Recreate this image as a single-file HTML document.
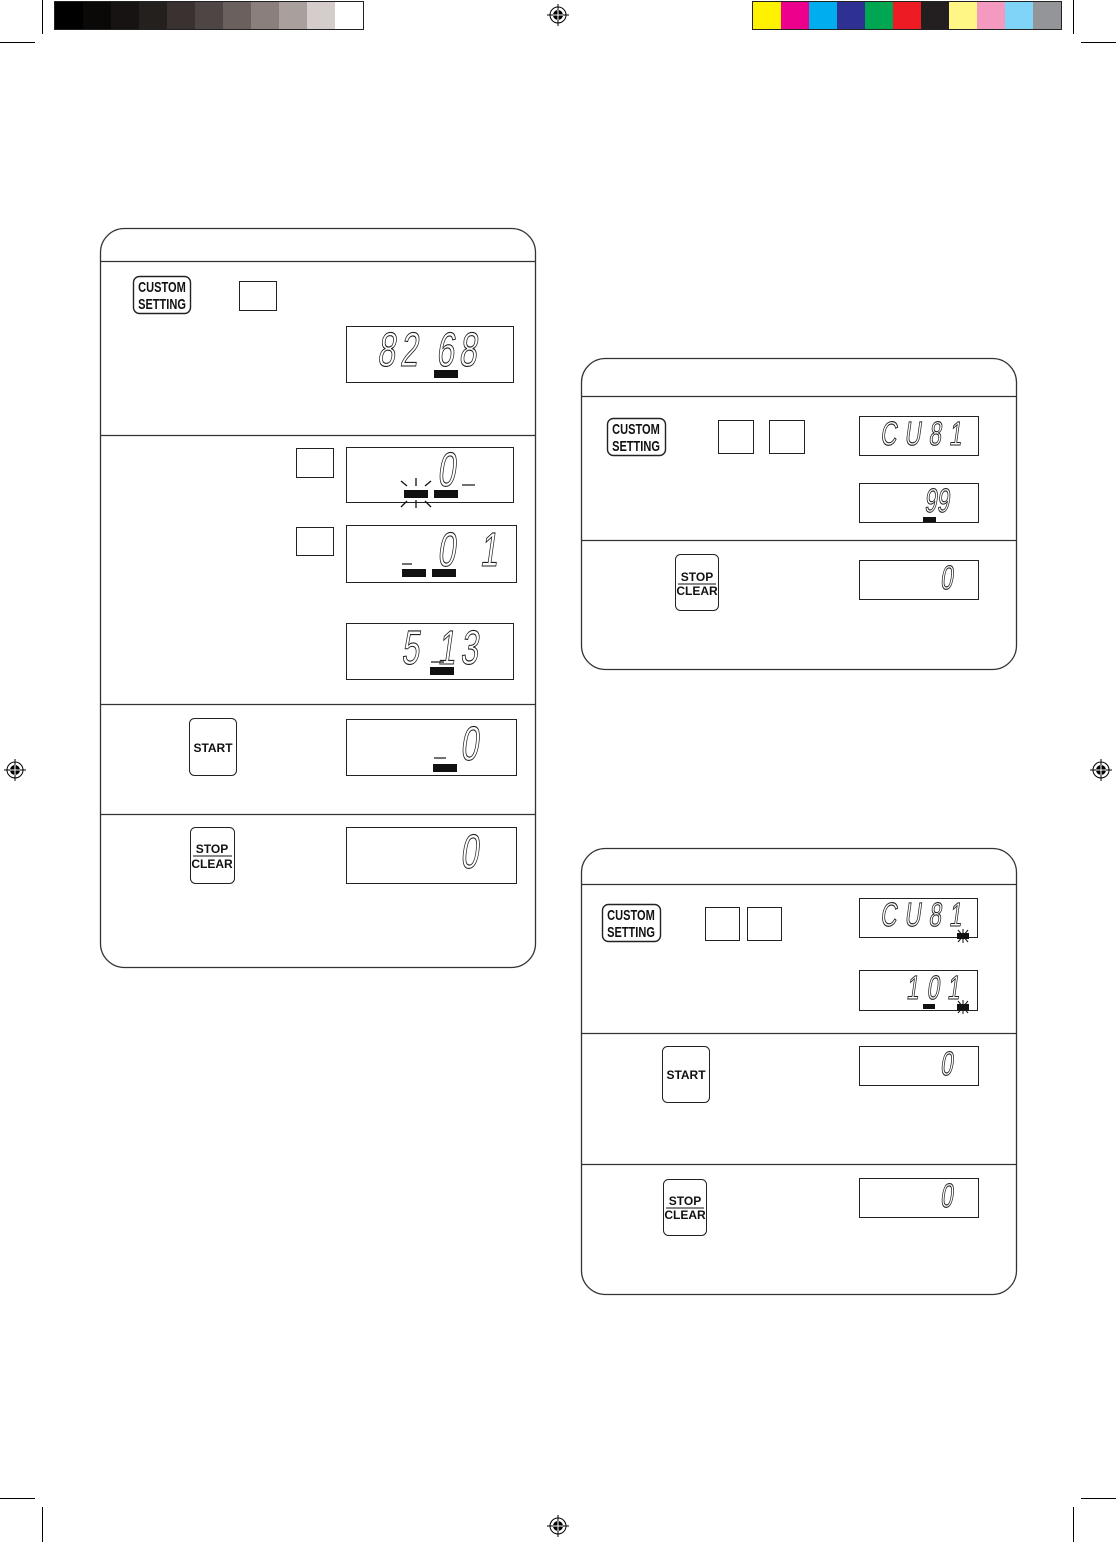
<!DOCTYPE html>
<html><head><meta charset="utf-8"><style>
html,body{margin:0;padding:0;background:#fff;}
svg{display:block;}
.d{font-family:"Liberation Sans",sans-serif;fill:#fff;stroke:#222;stroke-width:0.9;}
.b{font-family:"Liberation Sans",sans-serif;font-weight:bold;fill:#111;}
</style></head><body>
<svg width="1116" height="1542" viewBox="0 0 1116 1542" xmlns="http://www.w3.org/2000/svg">
<defs>
<g id="reg"><circle r="8" fill="none" stroke="#000" stroke-width="1"/><circle r="5" fill="#000"/><line x1="-11" y1="0" x2="11" y2="0" stroke="#000" stroke-width="1"/><line x1="0" y1="-11" x2="0" y2="11" stroke="#000" stroke-width="1"/><line x1="-5" y1="0" x2="5" y2="0" stroke="#fff" stroke-width="1"/><line x1="0" y1="-5" x2="0" y2="5" stroke="#fff" stroke-width="1"/></g>
<g id="star"><rect x="-6" y="-3" width="12" height="6" fill="#111"/><line x1="-5" y1="-6" x2="5" y2="6" stroke="#111"/><line x1="5" y1="-6" x2="-5" y2="6" stroke="#111"/><line x1="0" y1="-7" x2="0" y2="7" stroke="#111"/></g>
</defs>
<rect x="54" y="1" width="310" height="29" fill="#222"/>
<rect x="55" y="2" width="28" height="27" fill="#000"/><rect x="83" y="2" width="28" height="27" fill="#0b0908"/><rect x="111" y="2" width="28" height="27" fill="#171312"/><rect x="139" y="2" width="28" height="27" fill="#24201e"/><rect x="167" y="2" width="28" height="27" fill="#3a3230"/><rect x="195" y="2" width="28" height="27" fill="#4e4644"/><rect x="223" y="2" width="28" height="27" fill="#6a605e"/><rect x="251" y="2" width="28" height="27" fill="#8a7f7c"/><rect x="279" y="2" width="28" height="27" fill="#a9a09e"/><rect x="307" y="2" width="28" height="27" fill="#d5cccc"/><rect x="335" y="2" width="28" height="27" fill="#fff"/>
<rect x="752" y="1" width="310" height="29" fill="#222"/>
<rect x="753" y="2" width="28" height="27" fill="#fff200"/><rect x="781" y="2" width="28" height="27" fill="#ec008c"/><rect x="809" y="2" width="28" height="27" fill="#00aeef"/><rect x="837" y="2" width="28" height="27" fill="#2e3192"/><rect x="865" y="2" width="28" height="27" fill="#00a651"/><rect x="893" y="2" width="28" height="27" fill="#ed1c24"/><rect x="921" y="2" width="28" height="27" fill="#231f20"/><rect x="949" y="2" width="28" height="27" fill="#fff685"/><rect x="977" y="2" width="28" height="27" fill="#f49ac1"/><rect x="1005" y="2" width="28" height="27" fill="#7fd4f7"/><rect x="1033" y="2" width="28" height="27" fill="#939598"/>
<g stroke="#000" stroke-width="1">
<line x1="42.5" y1="0" x2="42.5" y2="34"/><line x1="0" y1="42.5" x2="35" y2="42.5"/>
<line x1="1073.5" y1="0" x2="1073.5" y2="34"/><line x1="1081" y1="42.5" x2="1116" y2="42.5"/>
<line x1="42.5" y1="1507" x2="42.5" y2="1542"/><line x1="0" y1="1498.5" x2="35" y2="1498.5"/>
<line x1="1073.5" y1="1507" x2="1073.5" y2="1542"/><line x1="1081" y1="1498.5" x2="1116" y2="1498.5"/>
</g>
<use href="#reg" x="558" y="15"/><use href="#reg" x="15" y="770"/><use href="#reg" x="1101" y="770"/><use href="#reg" x="558" y="1526"/>

<g fill="none" stroke="#333" stroke-width="1.3">
<rect x="100.5" y="228.5" width="435" height="739" rx="24"/>
<line x1="100" y1="261.5" x2="536" y2="261.5"/>
<line x1="100" y1="435.5" x2="536" y2="435.5"/>
<line x1="100" y1="704.5" x2="536" y2="704.5"/>
<line x1="100" y1="814.5" x2="536" y2="814.5"/>
<rect x="581.5" y="358.5" width="435" height="311" rx="24"/>
<line x1="581" y1="396.5" x2="1017" y2="396.5"/>
<line x1="581" y1="540.5" x2="1017" y2="540.5"/>
<rect x="581.5" y="848.5" width="435" height="446" rx="24"/>
<line x1="581" y1="884.5" x2="1017" y2="884.5"/>
<line x1="581" y1="1033.5" x2="1017" y2="1033.5"/>
<line x1="581" y1="1164.5" x2="1017" y2="1164.5"/>
</g>

<g fill="#fff" stroke="#222" stroke-width="1">
<rect x="239.5" y="281.5" width="37" height="29"/>
<rect x="296.5" y="448.5" width="37" height="29"/>
<rect x="296.5" y="527.5" width="37" height="28"/>
<rect x="718.5" y="420.5" width="35" height="33"/>
<rect x="769.5" y="420.5" width="35" height="33"/>
<rect x="705.5" y="907.5" width="34" height="33"/>
<rect x="747.5" y="907.5" width="34" height="33"/>
<rect x="346.5" y="326.5" width="167" height="56"/>
<rect x="346.5" y="447.5" width="167" height="55"/>
<rect x="346.5" y="525.5" width="170" height="57"/>
<rect x="346.5" y="623.5" width="167" height="56"/>
<rect x="346.5" y="719.5" width="170" height="56"/>
<rect x="346.5" y="827.5" width="170" height="56"/>
<rect x="859.5" y="416.5" width="119" height="39"/>
<rect x="859.5" y="483.5" width="119" height="39"/>
<rect x="859.5" y="560.5" width="119" height="39"/>
<rect x="859.5" y="898.5" width="118" height="39"/>
<rect x="859.5" y="970.5" width="118" height="40"/>
<rect x="859.5" y="1046.5" width="119" height="39"/>
<rect x="859.5" y="1178.5" width="119" height="39"/>
<rect x="133.5" y="276.5" width="57" height="37" rx="6" stroke-width="1.4"/>
<rect x="189.5" y="718.5" width="47" height="57" rx="5"/>
<rect x="190.5" y="827.5" width="44" height="56" rx="5"/>
<rect x="607.5" y="418.5" width="58" height="37" rx="6" stroke-width="1.4"/>
<rect x="675.5" y="554.5" width="43" height="56" rx="5"/>
<rect x="602.5" y="904.5" width="58" height="37" rx="6" stroke-width="1.4"/>
<rect x="662.5" y="1046.5" width="47" height="56" rx="5"/>
<rect x="663.5" y="1179.5" width="43" height="56" rx="5"/>
</g>

<g class="b" font-size="13" text-anchor="middle">
<text transform="translate(162,292) scale(0.85,1.1)">CUSTOM</text>
<text transform="translate(162,309) scale(0.85,1.1)">SETTING</text>
<text transform="translate(636,434) scale(0.85,1.1)">CUSTOM</text>
<text transform="translate(636,451) scale(0.85,1.1)">SETTING</text>
<text transform="translate(631,920) scale(0.85,1.1)">CUSTOM</text>
<text transform="translate(631,937) scale(0.85,1.1)">SETTING</text>
</g>
<text class="b" x="213" y="752" font-size="12" text-anchor="middle">START</text>
<text class="b" x="212" y="853" font-size="12" text-anchor="middle">STOP</text>
<line x1="193" y1="856" x2="232" y2="856" stroke="#111"/>
<text class="b" x="212" y="868" font-size="12" text-anchor="middle">CLEAR</text>
<text class="b" x="697" y="581" font-size="12" text-anchor="middle">STOP</text>
<line x1="678" y1="584" x2="716" y2="584" stroke="#111"/>
<text class="b" x="697" y="595" font-size="12" text-anchor="middle">CLEAR</text>
<text class="b" x="686" y="1079" font-size="12" text-anchor="middle">START</text>
<text class="b" x="685" y="1205" font-size="12" text-anchor="middle">STOP</text>
<line x1="666" y1="1208" x2="704" y2="1208" stroke="#111"/>
<text class="b" x="685" y="1219" font-size="12" text-anchor="middle">CLEAR</text>

<g class="d" font-size="40">
<text transform="translate(377,366) skewX(-8) scale(0.8,1.2)" letter-spacing="6">82 68</text>
<text transform="translate(437,486) skewX(-8) scale(0.8,1.2)">0</text>
<text transform="translate(437,566) skewX(-8) scale(0.8,1.2)" letter-spacing="10">0 1</text>
<text transform="translate(401,664) skewX(-8) scale(0.8,1.2)" letter-spacing="6">5 13</text>
<text transform="translate(460,760) skewX(-8) scale(0.8,1.2)">0</text>
<text transform="translate(460,868) skewX(-8) scale(0.8,1.2)">0</text>
</g>
<g class="d" font-size="28">
<text transform="translate(880,445) skewX(-8) scale(0.8,1.2)" letter-spacing="10">CU81</text>
<text transform="translate(924,512) skewX(-8) scale(0.8,1.2)">99</text>
<text transform="translate(940,589) skewX(-8) scale(0.8,1.2)">0</text>
<text transform="translate(880,926) skewX(-8) scale(0.8,1.2)" letter-spacing="10">CU81</text>
<text transform="translate(906,999) skewX(-8) scale(0.8,1.2)" letter-spacing="10">101</text>
<text transform="translate(940,1075) skewX(-8) scale(0.8,1.2)">0</text>
<text transform="translate(940,1207) skewX(-8) scale(0.8,1.2)">0</text>
</g>
<g stroke="#222" stroke-width="1.3">
<line x1="462" y1="485" x2="475" y2="485"/>
<line x1="402" y1="564" x2="412" y2="564"/>
<line x1="431" y1="662" x2="444" y2="662"/>
<line x1="434" y1="758" x2="446" y2="758"/>
</g>
<g fill="#111">
<rect x="434" y="370" width="24" height="8"/>
<rect x="404" y="490" width="24" height="8"/>
<rect x="434" y="490" width="24" height="8"/>
<rect x="402" y="569" width="24" height="8"/>
<rect x="432" y="569" width="24" height="8"/>
<rect x="430" y="667" width="24" height="8"/>
<rect x="433" y="764" width="24" height="8"/>
<rect x="923" y="517" width="13" height="5"/>
<rect x="923" y="1004" width="12" height="5"/>
</g>
<g stroke="#111" stroke-width="1.3">
<line x1="416" y1="478" x2="416" y2="486"/><line x1="401" y1="481" x2="407" y2="486"/><line x1="431" y1="481" x2="425" y2="486"/>
<line x1="416" y1="500" x2="416" y2="508"/><line x1="401" y1="507" x2="407" y2="501"/><line x1="431" y1="507" x2="425" y2="501"/>
</g>
<use href="#star" x="963" y="936"/>
<use href="#star" x="963" y="1007"/>
</svg>
</body></html>
